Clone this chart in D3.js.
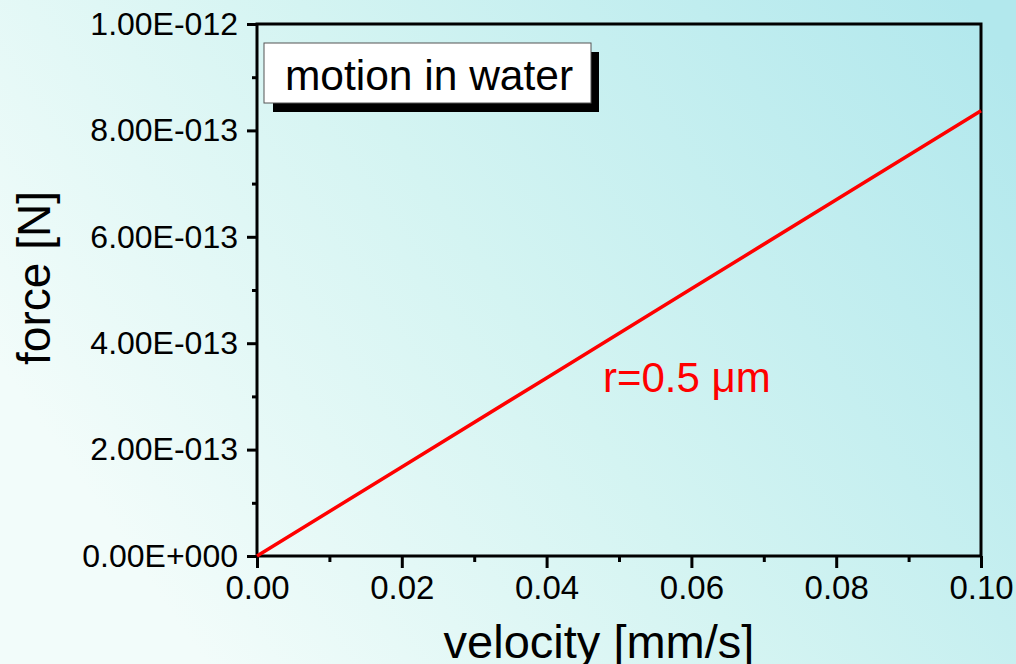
<!DOCTYPE html>
<html>
<head>
<meta charset="utf-8">
<script src="https://cdn.jsdelivr.net/npm/d3@7"></script>
<style>
  body { margin: 0; }
  svg { display: block; font-family: Arial, "Liberation Sans", sans-serif; }
</style>
</head>
<body>
<svg width="1016" height="664"></svg>
<script>
// data
var velocity = [0, 0.02, 0.04, 0.06, 0.08, 0.10];
var force = [0, 1.674e-13, 3.348e-13, 5.022e-13, 6.696e-13, 8.37e-13];
var xTicks = [0, 0.02, 0.04, 0.06, 0.08, 0.10];
var yTicks = [0, 2e-13, 4e-13, 6e-13, 8e-13, 1e-12];
var xTickLabels = ['0.00', '0.02', '0.04', '0.06', '0.08', '0.10'];
var yTickLabels = ['0.00E+000', '2.00E-013', '4.00E-013', '6.00E-013', '8.00E-013', '1.00E-012'];
var legendText = 'motion in water';
var seriesLabel = 'r=0.5 \u03bcm';

var svg = d3.select('svg');

var plotLeft = 257, plotRight = 981, plotTop = 24, plotBottom = 556;

// background gradient
var defs = svg.append('defs');
var grad = defs.append('linearGradient')
    .attr('id', 'bg')
    .attr('x1', 0).attr('y1', 0.55)
    .attr('x2', 1).attr('y2', 0.1);
grad.append('stop').attr('offset', '0%').attr('stop-color', '#f2fcfa');
grad.append('stop').attr('offset', '45%').attr('stop-color', '#d4f4f2');
grad.append('stop').attr('offset', '100%').attr('stop-color', '#b2e8ed');

svg.append('rect')
    .attr('width', 1016)
    .attr('height', 664)
    .style('fill', 'url(#bg)');

var x = d3.scaleLinear().domain([0, 0.1]).range([plotLeft, plotRight]);
var y = d3.scaleLinear().domain([0, 1e-12]).range([plotBottom, plotTop]);

// minor ticks
var xMinor = [0.01, 0.03, 0.05, 0.07, 0.09];
var yMinor = [1e-13, 3e-13, 5e-13, 7e-13, 9e-13];

svg.append('g')
    .attr('transform', 'translate(0,' + plotBottom + ')')
    .call(d3.axisBottom(x).tickValues(xMinor).tickSize(6).tickFormat(''))
    .call(function(g) { g.select('.domain').remove(); })
    .selectAll('line').style('stroke', 'black').style('stroke-width', 3);

svg.append('g')
    .attr('transform', 'translate(' + plotLeft + ',0)')
    .call(d3.axisLeft(y).tickValues(yMinor).tickSize(5).tickFormat(''))
    .call(function(g) { g.select('.domain').remove(); })
    .selectAll('line').style('stroke', 'black').style('stroke-width', 3);

// major x axis
var xAxis = svg.append('g')
    .attr('transform', 'translate(0,' + plotBottom + ')')
    .call(d3.axisBottom(x).tickValues(xTicks).tickSize(12).tickPadding(8)
        .tickFormat(function(d, i) { return xTickLabels[i]; }));
xAxis.select('.domain').remove();
xAxis.selectAll('line').style('stroke', 'black').style('stroke-width', 3);
xAxis.selectAll('text')
    .style('font-size', '33px')
    .style('font-family', 'Arial, "Liberation Sans", sans-serif')
    .style('fill', 'black');

// major y axis
var yAxis = svg.append('g')
    .attr('transform', 'translate(' + plotLeft + ',0)')
    .call(d3.axisLeft(y).tickValues(yTicks).tickSize(10).tickPadding(9)
        .tickFormat(function(d, i) { return yTickLabels[i]; }));
yAxis.select('.domain').remove();
yAxis.selectAll('line').style('stroke', 'black').style('stroke-width', 3);
yAxis.selectAll('text')
    .style('font-size', '32px')
    .style('font-family', 'Arial, "Liberation Sans", sans-serif')
    .style('fill', 'black');

// frame
svg.append('rect')
    .attr('x', plotLeft)
    .attr('y', plotTop)
    .attr('width', plotRight - plotLeft)
    .attr('height', plotBottom - plotTop)
    .style('fill', 'none')
    .style('stroke', 'black')
    .style('stroke-width', 3);

// line
var line = d3.line()
    .x(function(d, i) { return x(velocity[i]); })
    .y(function(d) { return y(d); });

svg.append('path')
    .datum(force)
    .attr('d', line)
    .style('fill', 'none')
    .style('stroke', '#ff0000')
    .style('stroke-width', 3.5);

// series label
svg.append('text')
    .attr('x', 603)
    .attr('y', 392)
    .text(seriesLabel)
    .style('font-size', '42px')
    .style('fill', '#ff0000');

// legend box with shadow
svg.append('rect')
    .attr('x', 273)
    .attr('y', 52)
    .attr('width', 326)
    .attr('height', 60)
    .style('fill', 'black');

svg.append('rect')
    .attr('x', 264)
    .attr('y', 43)
    .attr('width', 327)
    .attr('height', 60)
    .style('fill', 'white')
    .style('stroke', '#555')
    .style('stroke-width', 1);

svg.append('text')
    .attr('x', 429)
    .attr('y', 90)
    .attr('text-anchor', 'middle')
    .text(legendText)
    .style('font-size', '42.5px')
    .style('fill', 'black');

// axis titles
svg.append('text')
    .attr('x', 599)
    .attr('y', 658)
    .attr('text-anchor', 'middle')
    .text('velocity [mm/s]')
    .style('font-size', '47px')
    .style('fill', 'black');

svg.append('text')
    .attr('transform', 'translate(50,278) rotate(-90)')
    .attr('text-anchor', 'middle')
    .text('force [N]')
    .style('font-size', '46px')
    .style('fill', 'black');
</script>
</body>
</html>
